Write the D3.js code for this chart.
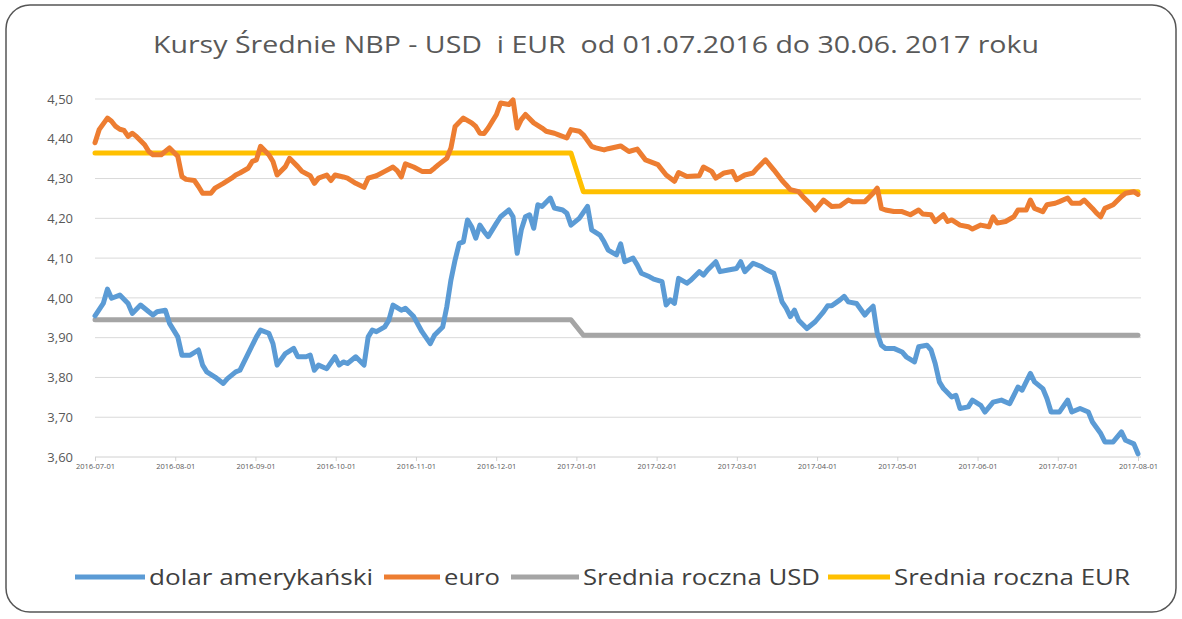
<!DOCTYPE html>
<html>
<head>
<meta charset="utf-8">
<script src="https://cdn.jsdelivr.net/npm/d3@7"></script>
<style>
    body { margin: 0; background: #fff; }
    svg { display: block; }
    .grid line { stroke: #d9d9d9; stroke-width: 1; }
    .axis text { fill: #595959; font-family: 'Open Sans', sans-serif; }
    .axis path, .axis line { stroke: #d0d0d0; }
</style>
</head>
<body>
<svg id="chart" width="1182" height="619"></svg>
<script>
// trading day index (0..252) and average rate
const usdSeries = [
    [0, 3.955], [2, 3.986], [3, 4.022], [4, 3.999], [6, 4.007], [8, 3.986], [9, 3.961], [11, 3.982],
    [13, 3.965], [14, 3.957], [15, 3.965], [17, 3.969], [18, 3.936], [20, 3.902], [21, 3.856], [23, 3.856],
    [25, 3.869], [26, 3.831], [27, 3.814], [29, 3.801], [31, 3.785], [32, 3.797], [34, 3.814], [35, 3.818],
    [37, 3.86], [39, 3.902], [40, 3.919], [42, 3.911], [43, 3.885], [44, 3.831], [46, 3.86], [48, 3.873],
    [49, 3.852], [51, 3.852], [52, 3.856], [53, 3.818], [54, 3.831], [56, 3.822], [58, 3.852], [59, 3.831],
    [60, 3.839], [61, 3.835], [63, 3.852], [65, 3.831], [66, 3.902], [67, 3.919], [68, 3.915], [70, 3.927],
    [71, 3.944], [72, 3.982], [74, 3.969], [75, 3.974], [77, 3.953], [79, 3.915], [81, 3.885], [82, 3.906],
    [84, 3.927], [85, 3.978], [86, 4.045], [87, 4.095], [88, 4.137], [89, 4.141], [90, 4.196], [91, 4.179],
    [92, 4.15], [93, 4.183], [94, 4.167], [95, 4.154], [97, 4.188], [98, 4.204], [100, 4.221], [101, 4.204],
    [102, 4.112], [103, 4.171], [104, 4.204], [105, 4.209], [106, 4.175], [107, 4.234], [108, 4.23], [110, 4.251],
    [111, 4.226], [113, 4.221], [114, 4.213], [115, 4.183], [117, 4.2], [119, 4.23], [120, 4.171], [122, 4.158],
    [123, 4.141], [124, 4.12], [126, 4.108], [127, 4.136], [128, 4.091], [130, 4.1], [131, 4.083], [132, 4.062],
    [134, 4.053], [135, 4.047], [137, 4.041], [138, 3.982], [139, 3.995], [140, 3.986], [141, 4.049], [143, 4.037],
    [144, 4.045], [146, 4.066], [147, 4.057], [148, 4.07], [150, 4.091], [151, 4.066], [153, 4.07], [155, 4.074],
    [156, 4.091], [157, 4.066], [159, 4.087], [161, 4.079], [162, 4.072], [164, 4.062], [165, 4.028], [166, 3.99],
    [167, 3.974], [168, 3.953], [169, 3.969], [170, 3.944], [172, 3.923], [174, 3.94], [176, 3.965], [177, 3.98],
    [178, 3.98], [180, 3.995], [181, 4.004], [182, 3.99], [184, 3.986], [186, 3.957], [187, 3.969], [188, 3.979],
    [189, 3.911], [190, 3.881], [191, 3.873], [193, 3.873], [195, 3.864], [196, 3.852], [198, 3.839], [199, 3.877],
    [201, 3.881], [202, 3.869], [203, 3.835], [204, 3.789], [205, 3.772], [207, 3.751], [208, 3.755], [209, 3.722],
    [211, 3.726], [212, 3.743], [214, 3.73], [215, 3.713], [217, 3.738], [219, 3.743], [221, 3.734], [222, 3.755],
    [223, 3.776], [224, 3.768], [226, 3.81], [227, 3.789], [229, 3.772], [230, 3.747], [231, 3.713], [233, 3.713],
    [235, 3.743], [236, 3.713], [238, 3.722], [240, 3.713], [241, 3.688], [243, 3.659], [244, 3.638], [246, 3.638],
    [248, 3.663], [249, 3.642], [251, 3.633], [252, 3.608],
];

const eurSeries = [
    [0, 4.39], [1, 4.423], [3, 4.452], [4, 4.444], [5, 4.431], [6, 4.424], [7, 4.421], [8, 4.406],
    [9, 4.414], [10, 4.406], [12, 4.385], [13, 4.368], [14, 4.36], [16, 4.36], [18, 4.377], [20, 4.356],
    [21, 4.305], [22, 4.298], [24, 4.295], [25, 4.28], [26, 4.263], [28, 4.263], [29, 4.276], [31, 4.288],
    [33, 4.301], [34, 4.309], [35, 4.314], [37, 4.326], [38, 4.343], [39, 4.347], [40, 4.381], [42, 4.36],
    [43, 4.343], [44, 4.309], [46, 4.33], [47, 4.351], [49, 4.33], [50, 4.318], [52, 4.307], [53, 4.288],
    [54, 4.301], [56, 4.309], [57, 4.295], [58, 4.309], [60, 4.304], [61, 4.301], [63, 4.288], [65, 4.278],
    [66, 4.301], [68, 4.307], [70, 4.318], [72, 4.329], [73, 4.32], [74, 4.304], [75, 4.337], [77, 4.329],
    [79, 4.318], [81, 4.318], [82, 4.326], [83, 4.335], [85, 4.351], [86, 4.377], [87, 4.431], [89, 4.452],
    [91, 4.44], [92, 4.431], [93, 4.414], [94, 4.413], [95, 4.427], [97, 4.461], [98, 4.49], [100, 4.486],
    [101, 4.498], [102, 4.427], [103, 4.448], [104, 4.461], [106, 4.44], [108, 4.427], [109, 4.419], [111, 4.414],
    [112, 4.41], [114, 4.402], [115, 4.423], [117, 4.419], [118, 4.41], [120, 4.381], [121, 4.377], [123, 4.372],
    [124, 4.375], [127, 4.382], [129, 4.368], [131, 4.374], [133, 4.347], [136, 4.335], [138, 4.309], [140, 4.293],
    [141, 4.315], [143, 4.305], [146, 4.307], [147, 4.329], [149, 4.318], [150, 4.301], [152, 4.314], [154, 4.318],
    [155, 4.297], [157, 4.309], [159, 4.314], [160, 4.326], [162, 4.347], [164, 4.322], [166, 4.295], [167, 4.284],
    [168, 4.272], [170, 4.267], [171, 4.255], [173, 4.234], [174, 4.221], [176, 4.246], [178, 4.23], [180, 4.231],
    [182, 4.246], [183, 4.242], [186, 4.242], [188, 4.263], [189, 4.276], [190, 4.225], [191, 4.221], [193, 4.217],
    [195, 4.217], [197, 4.209], [199, 4.221], [200, 4.211], [202, 4.209], [203, 4.192], [205, 4.209], [206, 4.192],
    [207, 4.196], [209, 4.183], [211, 4.179], [212, 4.173], [214, 4.183], [216, 4.179], [217, 4.204], [218, 4.188],
    [220, 4.192], [222, 4.204], [223, 4.221], [225, 4.221], [226, 4.246], [227, 4.225], [229, 4.217], [230, 4.234],
    [232, 4.238], [233, 4.242], [235, 4.251], [236, 4.238], [238, 4.238], [239, 4.246], [241, 4.225], [242, 4.213],
    [243, 4.204], [244, 4.225], [246, 4.234], [248, 4.255], [249, 4.263], [251, 4.267], [252, 4.26],
];

const usdAvgSeries = [[0, 3.945], [115, 3.945], [118, 3.906], [252, 3.906]];
const eurAvgSeries = [[0, 4.364], [115, 4.364], [118, 4.267], [252, 4.267]];

const xTickLabels = [
    '2016-07-01', '2016-08-01', '2016-09-01', '2016-10-01', '2016-11-01', '2016-12-01', '2017-01-01',
    '2017-02-01', '2017-03-01', '2017-04-01', '2017-05-01', '2017-06-01', '2017-07-01', '2017-08-01',
];
const yTicks = [3.6, 3.7, 3.8, 3.9, 4.0, 4.1, 4.2, 4.3, 4.4, 4.5];

const legendItems = [
    { name: 'dolar amerykański', color: '#5b9bd5' },
    { name: 'euro', color: '#ed7d31' },
    { name: 'Srednia roczna USD', color: '#a5a5a5' },
    { name: 'Srednia roczna EUR', color: '#ffc000' },
];

const svg = d3.select('#chart');

const LEFT = 95;
const RIGHT = 1138;
const TOP = 99;
const BOTTOM = 457;

const xCoord = d3.scaleLinear().domain([0, 252]).range([LEFT, RIGHT]);
const yCoord = d3.scaleLinear().domain([3.6, 4.5]).range([BOTTOM, TOP]);

// frame
svg.append('rect')
    .attr('x', 6).attr('y', 5)
    .attr('width', 1170).attr('height', 607)
    .attr('rx', 24)
    .attr('fill', '#fff')
    .attr('stroke', '#555')
    .attr('stroke-width', 1.5);

svg.append('text')
    .attr('x', 596).attr('y', 53)
    .attr('text-anchor', 'middle')
    .attr('font-family', "'Open Sans', sans-serif")
    .attr('font-size', 23.5)
    .attr('fill', '#595959')
    .attr('textLength', 886)
    .attr('lengthAdjust', 'spacingAndGlyphs')
    .style('white-space', 'pre')
    .text('Kursy Średnie NBP - USD  i EUR  od 01.07.2016 do 30.06. 2017 roku');

// grid
svg.append('g')
    .attr('class', 'grid')
    .selectAll('line')
    .data(yTicks.slice(1))
    .join('line')
    .attr('x1', LEFT).attr('x2', RIGHT + 3)
    .attr('y1', d => yCoord(d)).attr('y2', d => yCoord(d));

const yAxis = d3.axisLeft(yCoord)
    .tickValues(yTicks)
    .tickSize(0)
    .tickPadding(22)
    .tickFormat(d => d3.format('.2f')(d).replace('.', ','));

svg.append('g')
    .attr('class', 'axis axis--y')
    .attr('transform', `translate(${LEFT}, 0)`)
    .call(yAxis)
    .call(g => g.select('.domain').remove())
    .call(g => g.selectAll('text').attr('font-size', 13));

const xTickValues = xTickLabels.map((d, i) => (i * 252) / (xTickLabels.length - 1));
const xAxis = d3.axisBottom(xCoord)
    .tickValues(xTickValues)
    .tickSize(4)
    .tickSizeOuter(0)
    .tickPadding(3)
    .tickFormat((d, i) => xTickLabels[i]);

svg.append('g')
    .attr('class', 'axis axis--x')
    .attr('transform', `translate(0, ${BOTTOM})`)
    .call(xAxis)
    .call(g => g.select('.domain').attr('d', `M${LEFT},0H${RIGHT + 3}`))
    .call(g => g.selectAll('text').attr('font-size', 7.5).attr('fill', '#8a8a8a'));

const line = d3.line()
    .x(d => xCoord(d[0]))
    .y(d => yCoord(d[1]));

const drawSeries = (data, color) => {
    svg.append('path')
        .attr('d', line(data))
        .attr('fill', 'none')
        .attr('stroke', color)
        .attr('stroke-width', 5)
        .attr('stroke-linejoin', 'round')
        .attr('stroke-linecap', 'round');
};

drawSeries(usdAvgSeries, legendItems[2].color);
drawSeries(eurAvgSeries, legendItems[3].color);
drawSeries(usdSeries, legendItems[0].color);
drawSeries(eurSeries, legendItems[1].color);

// legend
const legendPos = [
    { x1: 75, x2: 145, tx: 149, tw: 224 },
    { x1: 384, x2: 440, tx: 444, tw: 56 },
    { x1: 511, x2: 579, tx: 583, tw: 237 },
    { x1: 828, x2: 890, tx: 894, tw: 236 },
];
const legend = svg.append('g').attr('class', 'legend');
legendItems.forEach((item, i) => {
    const p = legendPos[i];
    legend.append('line')
        .attr('x1', p.x1).attr('x2', p.x2)
        .attr('y1', 577).attr('y2', 577)
        .attr('stroke', item.color)
        .attr('stroke-width', 5);
    legend.append('text')
        .attr('x', p.tx).attr('y', 585)
        .attr('font-family', "'Open Sans', sans-serif")
        .attr('font-size', 22.5)
        .attr('fill', '#404040')
        .attr('textLength', p.tw)
        .attr('lengthAdjust', 'spacingAndGlyphs')
        .text(item.name);
});
</script>
</body>
</html>
